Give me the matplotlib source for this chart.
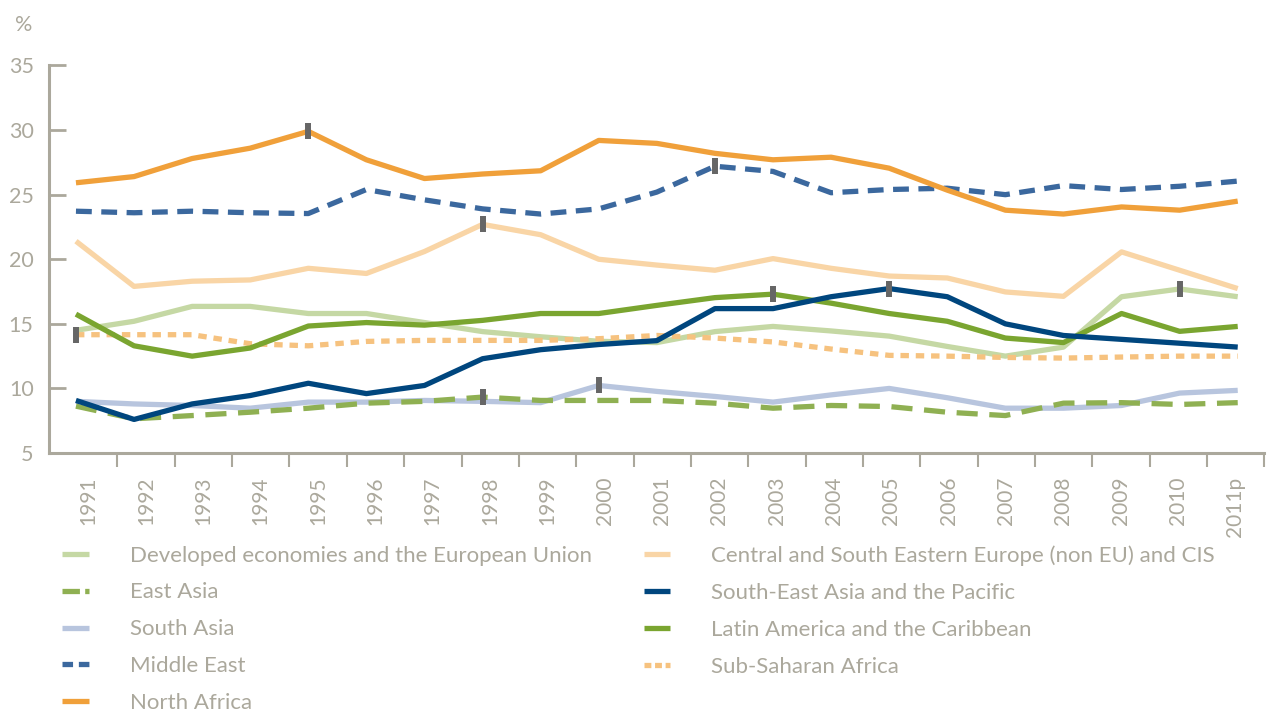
import numpy as np
import matplotlib.pyplot as plt
from matplotlib.lines import Line2D

plt.rcParams['font.family'] = ['Lato', 'DejaVu Sans']

years = ['1991', '1992', '1993', '1994', '1995', '1996', '1997', '1998', '1999', '2000',
         '2001', '2002', '2003', '2004', '2005', '2006', '2007', '2008', '2009', '2010', '2011p']

developed = [14.5, 15.2, 16.35, 16.35, 15.8, 15.8, 15.1, 14.4, 14.0, 13.65,
             13.55, 14.4, 14.8, 14.45, 14.05, 13.25, 12.5, 13.2, 17.1, 17.7, 17.1]
east_asia = [8.63, 7.65, 7.9, 8.16, 8.47, 8.86, 9.0, 9.33, 9.07, 9.07,
             9.07, 8.86, 8.47, 8.68, 8.6, 8.16, 7.9, 8.86, 8.9, 8.76, 8.9]
south_asia = [9.0, 8.8, 8.68, 8.47, 8.94, 8.94, 9.07, 9.0, 8.9, 10.23,
              9.77, 9.38, 8.94, 9.5, 10.0, 9.28, 8.47, 8.47, 8.68, 9.64, 9.85]
middle_east = [23.72, 23.6, 23.72, 23.6, 23.54, 25.4, 24.6, 23.9, 23.5, 23.9,
               25.2, 27.2, 26.8, 25.15, 25.4, 25.5, 25.0, 25.7, 25.4, 25.65, 26.05]
north_africa = [25.92, 26.4, 27.8, 28.6, 29.9, 27.7, 26.25, 26.6, 26.85, 29.2,
                28.97, 28.2, 27.7, 27.9, 27.05, 25.35, 23.8, 23.5, 24.05, 23.8, 24.5]
csee = [21.4, 17.9, 18.3, 18.4, 19.3, 18.9, 20.6, 22.7, 21.9, 20.0,
        19.55, 19.15, 20.05, 19.3, 18.7, 18.55, 17.47, 17.13, 20.57, 19.15, 17.73]
se_asia = [9.07, 7.6, 8.8, 9.45, 10.4, 9.6, 10.23, 12.3, 13.0, 13.4,
           13.7, 16.18, 16.18, 17.1, 17.73, 17.1, 15.0, 14.1, 13.8, 13.5, 13.2]
latin_america = [15.75, 13.3, 12.5, 13.13, 14.83, 15.1, 14.9, 15.27, 15.8, 15.8,
                 16.43, 17.03, 17.3, 16.6, 15.8, 15.2, 13.9, 13.55, 15.8, 14.42, 14.8]
sub_saharan = [14.16, 14.16, 14.16, 13.46, 13.3, 13.64, 13.72, 13.72, 13.72, 13.85,
               14.1, 13.9, 13.6, 13.05, 12.56, 12.5, 12.4, 12.35, 12.43, 12.5, 12.5]

# series: (label, values, color, line dashes, legend dashes)
col1 = [
    ('Developed economies and the European Union', developed, '#c5d8a4', None, None),
    ('East Asia', east_asia, '#8fb052', (4.0, 2.2), (3.3, 1.0)),
    ('South Asia', south_asia, '#b8c5de', None, None),
    ('Middle East', middle_east, '#3b689e', (3.0, 1.8), (2.0, 1.1)),
    ('North Africa', north_africa, '#f0a03a', None, None),
]
col2 = [
    ('Central and South Eastern Europe (non EU) and CIS', csee, '#f9d5a6', None, None),
    ('South-East Asia and the Pacific', se_asia, '#00467e', None, None),
    ('Latin America and the Caribbean', latin_america, '#7aa530', None, None),
    ('Sub-Saharan Africa', sub_saharan, '#f6c27f', (1.6, 1.3), (1.3, 0.7)),
]

# small grey markers: (values, year index)
marks = [(sub_saharan, 0), (north_africa, 4), (csee, 7), (east_asia, 7), (south_asia, 9),
         (middle_east, 11), (latin_america, 12), (se_asia, 14), (developed, 19)]

grey = '#aba89c'
lw = 3.8
fig = plt.figure(figsize=(12.68, 7.15), dpi=100)
ax = fig.add_axes([0.0386, 0.3664, 0.9586, 0.542])

x = np.arange(len(years))
draw_order = [developed, csee, south_asia, east_asia, sub_saharan, latin_america,
              se_asia, middle_east, north_africa]
handles1, handles2 = [], []
for group, handles in ((col1, handles1), (col2, handles2)):
    for name, vals, color, dash, leg_dash in group:
        ln, = ax.plot(x, vals, color=color, lw=lw,
                      solid_capstyle='butt', dash_capstyle='butt')
        if dash:
            ln.set_dashes(dash)
        ln.set_zorder(2 + 0.1 * [id(v) for v in draw_order].index(id(vals)))
        h = Line2D([], [], color=color, lw=lw, label=name,
                   solid_capstyle='butt', dash_capstyle='butt')
        if leg_dash:
            h.set_dashes(leg_dash)
        handles.append(h)

for vals, i in marks:
    ax.plot(x[i], vals[i], marker='|', ms=11, mew=4.3, color='#666666', zorder=5)

ax.set_xlim(-0.465, 20.46)
ax.set_ylim(5, 35)
ax.set_yticks(range(5, 36, 5))
for s in ['top', 'right']:
    ax.spines[s].set_visible(False)
for s in ['left', 'bottom']:
    ax.spines[s].set_color(grey)
    ax.spines[s].set_linewidth(2.2)

ax.tick_params(axis='y', direction='in', length=12, width=2, color=grey,
               labelcolor=grey, labelsize=15.5, pad=11)
ax.set_xticks(np.linspace(0.714, 20.46, 21))
ax.set_xticklabels([])
ax.tick_params(axis='x', which='major', direction='out', length=10, width=1.5, color=grey)
ax.set_xticks(np.linspace(0.22, 19.96, 21), minor=True)
ax.set_xticklabels(years, minor=True, rotation=90, color=grey, fontsize=15)
ax.tick_params(axis='x', which='minor', length=0, pad=17)

fig.text(0.012, 0.965, '%', color=grey, fontsize=15.5, va='center')

leg_kw = dict(loc='upper left', frameon=False, fontsize=16, handlelength=1.2,
              handletextpad=1.85, labelspacing=0.76, borderpad=0, borderaxespad=0,
              labelcolor=grey)
fig.legend(handles=handles1, bbox_to_anchor=(0.0489, 0.237), **leg_kw)
fig.legend(handles=handles2, bbox_to_anchor=(0.5075, 0.237), **leg_kw)

fig.savefig('out.png', dpi=100)
